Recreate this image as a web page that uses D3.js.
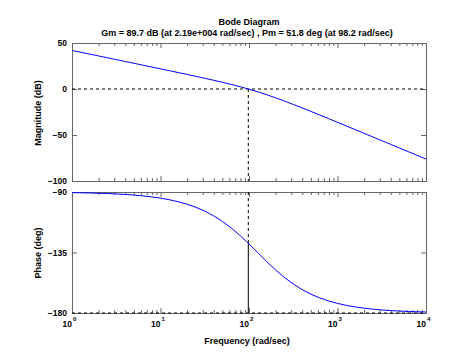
<!DOCTYPE html>
<html>
<head>
<meta charset="utf-8">
<script src="https://cdn.jsdelivr.net/npm/d3@7"></script>
<style>
  body { margin: 0; background: #fff; }
  text { font-family: "Liberation Sans", Arial, sans-serif; font-weight: bold; font-size: 9px; fill: #000; }
  .axis text { font-size: 8.5px; }
  .axis path, .axis line { stroke: #666; }
</style>
</head>
<body>
<div id="chart"></div>
<script>
// frequencies (rad/sec)
const freq = [1, 1.259, 1.585, 1.995, 2.512, 3.162, 3.981, 5.012, 6.310, 7.943,
  10, 12.59, 15.85, 19.95, 25.12, 31.62, 39.81, 50.12, 63.10, 79.43,
  100, 125.9, 158.5, 199.5, 251.2, 316.2, 398.1, 501.2, 631.0, 794.3,
  1000, 1259, 1585, 1995, 2512, 3162, 3981, 5012, 6310, 7943, 10000];
const magDb = [41.94, 39.94, 37.94, 35.94, 33.94, 31.94, 29.93, 27.93, 25.93, 23.92,
  21.91, 19.89, 17.87, 15.83, 13.77, 11.67, 9.52, 7.29, 4.95, 2.47,
  -0.21, -3.10, -6.23, -9.56, -13.09, -16.75, -20.53, -24.39, -28.29, -32.23,
  -36.19, -40.16, -44.15, -48.14, -52.13, -56.13, -60.13, -64.13, -68.12, -72.12, -76.12];
const phaseDeg = [-90.46, -90.58, -90.73, -90.91, -91.15, -91.45, -91.82, -92.30, -92.89, -93.64,
  -94.57, -95.75, -97.23, -99.07, -101.37, -104.2, -107.67, -111.85, -116.78, -122.44,
  -128.66, -135.2, -141.74, -147.93, -153.54, -158.43, -162.57, -166.0, -168.79, -171.06,
  -172.87, -174.33, -175.49, -176.41, -177.15, -177.74, -178.2, -178.57, -178.87, -179.1, -179.28];

const xMajor = [1, 10, 100, 1000, 10000];
const xExp = ["0", "1", "2", "3", "4"];
const magTicks = [50, 0, -50, -100];
const phaseTicks = [-90, -135, -180];

// margins
const wc = 98.2;       // gain crossover
const pmPhase = -128.2; // phase at crossover

const W = 471, H = 352;
const left = 72, right = 426;

const svg = d3.select("#chart").append("svg")
  .attr("width", W).attr("height", H);

const x = d3.scaleLog().domain([1, 10000]).range([left, right]);

let xMinor = [];
xMajor.slice(0, -1).forEach(d => {
  for (let k = 2; k < 10; k++) xMinor.push(d * k);
});

function panel(top, bot, domain, ticks) {
  const y = d3.scaleLinear().domain(domain).range([bot, top]);

  // box + ticks
  svg.append("g").attr("class", "axis")
    .attr("transform", `translate(0,${bot})`)
    .call(d3.axisBottom(x).tickValues(xMajor).tickSize(-5).tickSizeOuter(0).tickFormat(""));
  svg.append("g").attr("class", "axis")
    .attr("transform", `translate(0,${bot})`)
    .call(d3.axisBottom(x).tickValues(xMinor).tickSize(-3).tickSizeOuter(0).tickFormat(""));
  svg.append("g").attr("class", "axis")
    .attr("transform", `translate(0,${top})`)
    .call(d3.axisTop(x).tickValues(xMajor).tickSize(-5).tickSizeOuter(0).tickFormat(""));
  svg.append("g").attr("class", "axis")
    .attr("transform", `translate(0,${top})`)
    .call(d3.axisTop(x).tickValues(xMinor).tickSize(-3).tickSizeOuter(0).tickFormat(""));
  svg.append("g").attr("class", "axis")
    .attr("transform", `translate(${left},0)`)
    .call(d3.axisLeft(y).tickValues(ticks).tickSize(-5).tickSizeOuter(0).tickPadding(5));
  svg.append("g").attr("class", "axis")
    .attr("transform", `translate(${right},0)`)
    .call(d3.axisRight(y).tickValues(ticks).tickSize(-5).tickSizeOuter(0).tickFormat(""));

  svg.selectAll(".axis text").attr("font-size", null).attr("font-family", null);
  return y;
}

// magnitude
const yMag = panel(43, 181, [-100, 50], magTicks);
// phase
const yPh = panel(192, 313, [-180, -90], phaseTicks);

const line = (yy, vals) => d3.line()
  .x((d, i) => x(freq[i]))
  .y((d, i) => yy(vals[i]))(vals);

// dashed margin lines
svg.append("line")
  .attr("x1", left).attr("x2", right)
  .attr("y1", yMag(0)).attr("y2", yMag(0))
  .attr("stroke", "#000").attr("stroke-dasharray", "3,3");
svg.append("line")
  .attr("x1", x(wc)).attr("x2", x(wc))
  .attr("y1", yMag(0)).attr("y2", yMag(-100))
  .attr("stroke", "#000").attr("stroke-dasharray", "3,3");
svg.append("line")
  .attr("x1", left).attr("x2", right)
  .attr("y1", yPh(-180)).attr("y2", yPh(-180))
  .attr("stroke", "#000").attr("stroke-dasharray", "3,3");
svg.append("line")
  .attr("x1", x(wc)).attr("x2", x(wc))
  .attr("y1", yPh(-90)).attr("y2", yPh(pmPhase))
  .attr("stroke", "#000").attr("stroke-dasharray", "3,3");
svg.append("line")
  .attr("x1", x(wc)).attr("x2", x(wc))
  .attr("y1", yPh(pmPhase)).attr("y2", yPh(-180))
  .attr("stroke", "#000");

// curves
svg.append("path").attr("d", line(yMag, magDb))
  .attr("fill", "none").attr("stroke", "#0000ff").attr("stroke-width", 1);
svg.append("path").attr("d", line(yPh, phaseDeg))
  .attr("fill", "none").attr("stroke", "#0000ff").attr("stroke-width", 1);

// x tick labels 10^n
xMajor.forEach((d, i) => {
  svg.append("text").attr("x", x(d)).attr("y", 327)
    .attr("text-anchor", "end").style("font-size", "8.5px").text("10");
  svg.append("text").attr("x", x(d) + 1).attr("y", 321)
    .style("font-size", "6px").text(xExp[i]);
});

// titles and labels
svg.append("text").attr("x", 249).attr("y", 25)
  .attr("text-anchor", "middle").text("Bode Diagram");
svg.append("text").attr("x", 247).attr("y", 36)
  .attr("text-anchor", "middle")
  .text("Gm = 89.7 dB (at 2.19e+004 rad/sec) ,  Pm = 51.8 deg (at 98.2 rad/sec)");
svg.append("text").attr("x", 247).attr("y", 344)
  .attr("text-anchor", "middle").text("Frequency  (rad/sec)");
svg.append("text")
  .attr("transform", "translate(41,113) rotate(-90)")
  .attr("text-anchor", "middle").text("Magnitude (dB)");
svg.append("text")
  .attr("transform", "translate(41,253) rotate(-90)")
  .attr("text-anchor", "middle").text("Phase (deg)");
</script>
</body>
</html>
